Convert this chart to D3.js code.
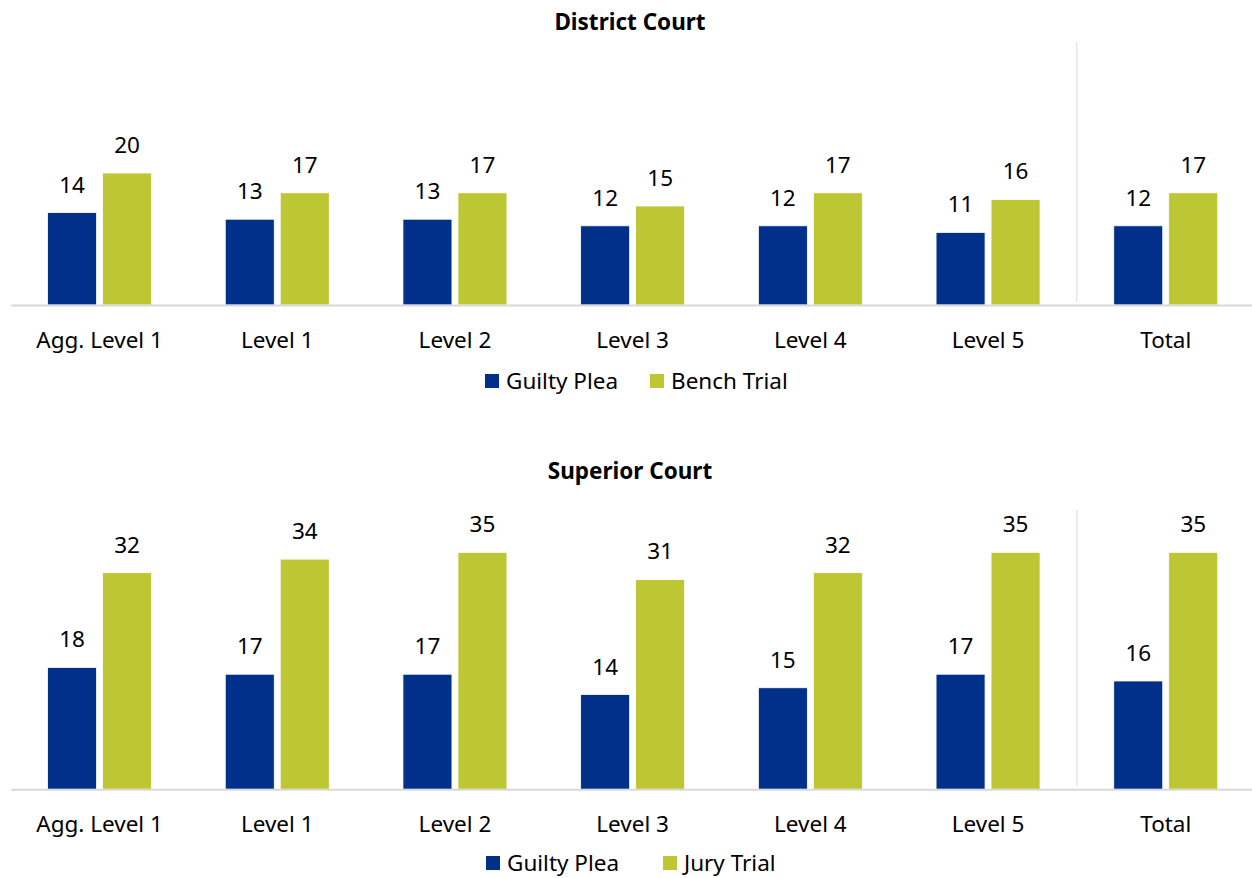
<!DOCTYPE html>
<html>
<head>
<meta charset="utf-8">
<script src="https://cdn.jsdelivr.net/npm/d3@7"></script>
<style>
  body { margin: 0; background: #fff; }
  svg text { font-family: "Noto Sans", "Open Sans", sans-serif; fill: #000; }
</style>
</head>
<body>
<svg id="chart" width="1252" height="878"></svg>
<script>
var categories = ["Agg. Level 1", "Level 1", "Level 2", "Level 3", "Level 4", "Level 5", "Total"];

var districtGuilty = [14, 13, 13, 12, 12, 11, 12];
var districtBench = [20, 17, 17, 15, 17, 16, 17];

var superiorGuilty = [18, 17, 17, 14, 15, 17, 16];
var superiorJury = [32, 34, 35, 31, 32, 35, 35];

var blue = "#00308a",
  green = "#bdc633";
var fontSize = "22.5px";

var svg = d3.select("#chart");

var x0 = d3.scaleBand().domain(categories).range([10.7, 1254.6]);
var groupW = 104;
var x1 = d3
  .scaleBand()
  .domain([0, 1])
  .range([0, groupW])
  .paddingInner(6 / 55);

function drawChart(opt) {
  var g = svg.append("g");
  var y = d3.scaleLinear().domain([0, 40]).range([opt.bottom, opt.top]);

  var rows = categories.map(function (c, i) {
    return { cat: c, vals: [opt.a[i], opt.b[i]] };
  });

  // title
  g.append("text")
    .attr("x", 630)
    .attr("y", opt.titleY)
    .attr("text-anchor", "middle")
    .style("font-weight", "bold")
    .style("font-size", "22.5px")
    .text(opt.title);

  // separator before Total
  g.append("line")
    .attr("x1", x0("Total"))
    .attr("x2", x0("Total"))
    .attr("y1", opt.sepTop)
    .attr("y2", opt.bottom - 3)
    .attr("stroke", "#d9d9d9")
    .attr("stroke-width", 1);

  var grp = g
    .selectAll("g.grp")
    .data(rows)
    .enter()
    .append("g")
    .attr("class", "grp")
    .attr("transform", function (d) {
      return "translate(" + (x0(d.cat) + (x0.bandwidth() - groupW) / 2) + ",0)";
    });

  grp
    .selectAll("rect")
    .data(function (d) {
      return d.vals;
    })
    .enter()
    .append("rect")
    .attr("x", function (d, i) {
      return x1(i);
    })
    .attr("y", function (d) {
      return y(d);
    })
    .attr("width", x1.bandwidth())
    .attr("height", function (d) {
      return y(0) - y(d);
    })
    .attr("fill", function (d, i) {
      return i === 0 ? blue : green;
    })
    .attr("stroke", "#fff")
    .attr("stroke-width", 0.8);

  grp
    .selectAll("text.val")
    .data(function (d) {
      return d.vals;
    })
    .enter()
    .append("text")
    .attr("class", "val")
    .attr("x", function (d, i) {
      return x1(i) + x1.bandwidth() / 2;
    })
    .attr("y", function (d) {
      return y(d) - 20;
    })
    .attr("text-anchor", "middle")
    .style("font-size", fontSize)
    .text(function (d) {
      return d;
    });

  // x axis
  var ax = g
    .append("g")
    .attr("transform", "translate(0," + opt.bottom + ")")
    .call(d3.axisBottom(x0).tickSize(0));
  ax.select(".domain").attr("stroke", "#d9d9d9").attr("stroke-width", 2);
  ax.selectAll("text")
    .attr("y", 43)
    .attr("dy", 0)
    .style("font-size", fontSize)
    .style("font-family", '"Noto Sans", "Open Sans", sans-serif')
    .attr("fill", "#000");

  // legend
  var leg = g.append("g");
  opt.legend.forEach(function (l, i) {
    leg.append("rect")
      .attr("x", l.x)
      .attr("y", opt.legendY - 15)
      .attr("width", 14)
      .attr("height", 14)
      .attr("fill", i === 0 ? blue : green);
    leg.append("text")
      .attr("x", l.x + 21)
      .attr("y", opt.legendY)
      .style("font-size", fontSize)
      .text(l.name);
  });
}

drawChart({
  title: "District Court",
  titleY: 30,
  top: 41,
  bottom: 305,
  sepTop: 42,
  a: districtGuilty,
  b: districtBench,
  legendY: 389,
  legend: [
    { name: "Guilty Plea", x: 485 },
    { name: "Bench Trial", x: 650 }
  ]
});

drawChart({
  title: "Superior Court",
  titleY: 479,
  top: 518.5,
  bottom: 789.3,
  sepTop: 510,
  a: superiorGuilty,
  b: superiorJury,
  legendY: 871,
  legend: [
    { name: "Guilty Plea", x: 486 },
    { name: "Jury Trial", x: 663 }
  ]
});
</script>
</body>
</html>
